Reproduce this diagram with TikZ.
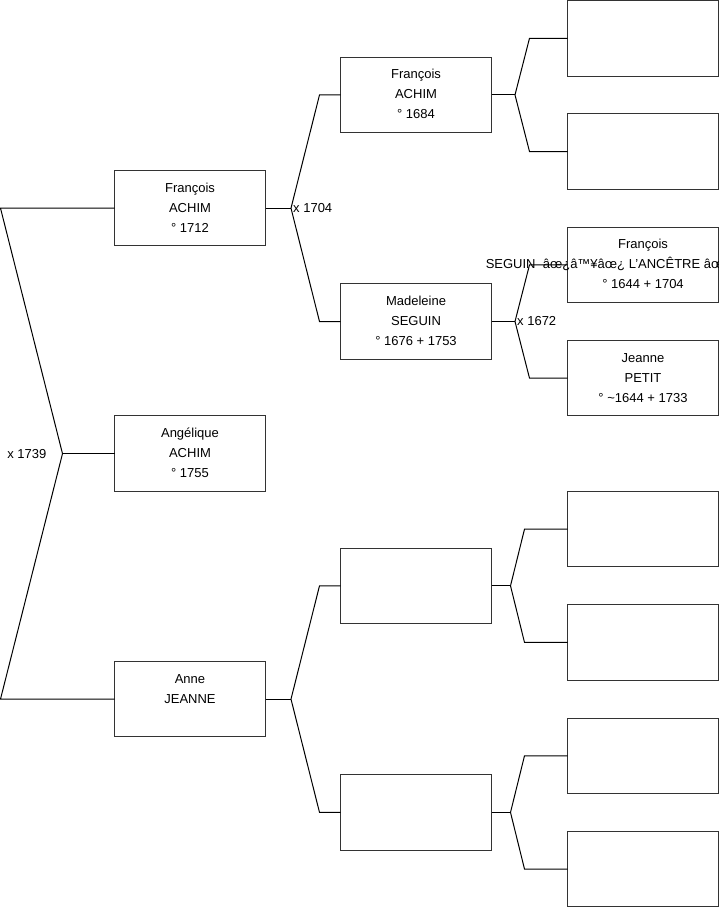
\documentclass[tikz,border=0pt]{standalone}
\usepackage{fontspec}
\setmainfont{Liberation Sans}
\usetikzlibrary{positioning, calc}

\begin{document}
\begin{tikzpicture}[
  x=1pt, y=-1pt,
  person/.style={draw=black!80, line width=1pt, minimum width=151pt, minimum height=75.5pt,
                 inner sep=0pt, outer sep=0pt, fill=white, align=center,
                 font=\fontsize{13}{20}\selectfont},
  link/.style={line width=1pt, color=black},
  union/.style={font=\fontsize{13}{20}\selectfont, inner sep=2pt},
]

\clip (0,0) rectangle (719,908);
\coordinate (edge) at (0.5,0);

% Great-grandparents
\node[person, anchor=north west] (gg1) at (567.5,0.5) {};
\node[person, below=37.8pt of gg1] (gg2) {};
\node[person, below=37.8pt of gg2] (gg3)
  {\strut François\\\makebox[0pt]{SEGUIN\ \ âœ¿â™¥âœ¿ L'ANCÊTRE âœ¿â™¥âœ¿\hspace*{14pt}}\\° 1644 + 1704\strut};
\node[person, below=37.8pt of gg3] (gg4)
  {\strut Jeanne\\PETIT\\° \textasciitilde1644 + 1733\strut};
\node[person, below=75.5pt of gg4] (gg5) {};
\node[person, below=37.8pt of gg5] (gg6) {};
\node[person, below=37.8pt of gg6] (gg7) {};
\node[person, below=37.8pt of gg7] (gg8) {};

% Grandparents
\path (gg1.west) -- (gg2.west) coordinate[midway] (m1);
\path (gg3.west) -- (gg4.west) coordinate[midway] (m2);
\path (gg5.west) -- (gg6.west) coordinate[midway] (m3);
\path (gg7.west) -- (gg8.west) coordinate[midway] (m4);
\node[person, left=76pt of m1] (gf1) {\strut François\\ACHIM\\° 1684\strut};
\node[person, left=76pt of m2] (gm1) {\strut Madeleine\\SEGUIN\\° 1676 + 1753\strut};
\node[person, left=76pt of m3] (gf2) {};
\node[person, left=76pt of m4] (gm2) {};

% Parents
\path (gf1.west) -- (gm1.west) coordinate[midway] (m5);
\path (gf2.west) -- (gm2.west) coordinate[midway] (m6);
\node[person, left=75pt of m5] (fa) {\strut François\\ACHIM\\° 1712\strut};
\node[person, left=75pt of m6] (mo) {\strut Anne\\JEANNE\\\strut};

% Root
\path (fa) -- (mo) coordinate[midway] (m7);
\node[person] (ang) at (m7) {\strut Angélique\\ACHIM\\° 1755\strut};

% Brackets
\coordinate (rv) at ($(ang.west)+(-52,0)$);
\draw[link] (fa.west) -- (fa.west -| edge) -- (rv) -- (mo.west -| edge) -- (mo.west);
\draw[link] (rv) -- (ang.west);
\node[union, anchor=east] at ($(rv)+(-14,0)$) {x 1739};

\draw[link] (fa.east) -- ++(25.5,0) coordinate (u1);
\draw[link] (gf1.west) -- ++(-21,0) -- (u1) -- ($(gm1.west)+(-21,0)$) -- (gm1.west);
\node[union, anchor=west] at (u1) {x 1704};

\draw[link] (mo.east) -- ++(25.5,0) coordinate (u2);
\draw[link] (gf2.west) -- ++(-21,0) -- (u2) -- ($(gm2.west)+(-21,0)$) -- (gm2.west);

\draw[link] (gf1.east) -- ++(23.5,0) coordinate (u3);
\draw[link] (gg1.west) -- ++(-38,0) -- (u3) -- ($(gg2.west)+(-38,0)$) -- (gg2.west);

\draw[link] (gm1.east) -- ++(23.5,0) coordinate (u4);
\draw[link] (gg3.west) -- ++(-38,0) -- (u4) -- ($(gg4.west)+(-38,0)$) -- (gg4.west);
\node[union, anchor=west] at (u4) {x 1672};

\draw[link] (gf2.east) -- ++(19,0) coordinate (u5);
\draw[link] (gg5.west) -- ++(-43,0) -- (u5) -- ($(gg6.west)+(-43,0)$) -- (gg6.west);

\draw[link] (gm2.east) -- ++(19,0) coordinate (u6);
\draw[link] (gg7.west) -- ++(-43,0) -- (u6) -- ($(gg8.west)+(-43,0)$) -- (gg8.west);

\end{tikzpicture}
\end{document}
